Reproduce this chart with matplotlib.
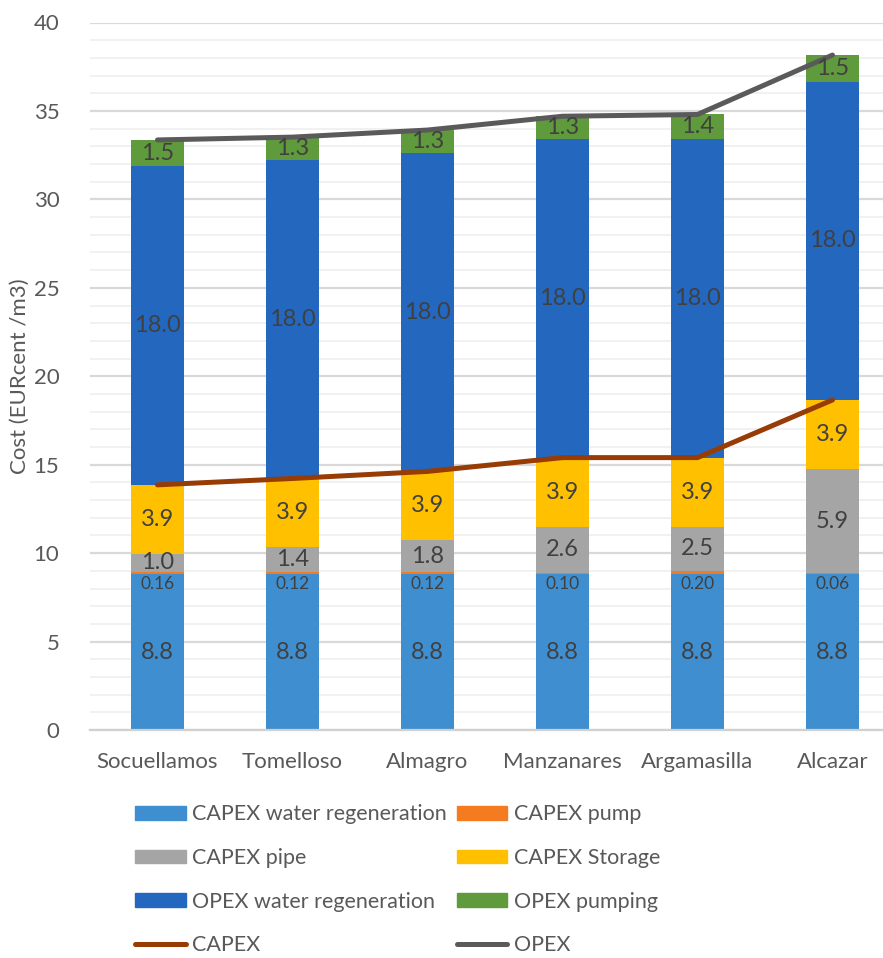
import matplotlib
matplotlib.use("Agg")
import matplotlib.pyplot as plt
from matplotlib.patches import Patch
from matplotlib.lines import Line2D
import numpy as np

plt.rcParams['font.family'] = ['Lato', 'DejaVu Sans']

towns = ["Socuellamos", "Tomelloso", "Almagro", "Manzanares", "Argamasilla", "Alcazar"]
capex_regen = [8.8, 8.8, 8.8, 8.8, 8.8, 8.8]
capex_pump = [0.16, 0.12, 0.12, 0.10, 0.20, 0.06]
capex_pipe = [1.0, 1.4, 1.8, 2.6, 2.5, 5.9]
capex_storage = [3.9, 3.9, 3.9, 3.9, 3.9, 3.9]
opex_regen = [18.0, 18.0, 18.0, 18.0, 18.0, 18.0]
opex_pumping = [1.5, 1.3, 1.3, 1.3, 1.4, 1.5]

c_regen = "#3f8fd0"
c_pump = "#f47b20"
c_pipe = "#a5a5a5"
c_storage = "#ffc000"
c_oregen = "#2467bf"
c_opump = "#5f9b3c"
c_capex_line = "#983c06"
c_opex_line = "#5a5a5a"
txt = "#404040"
tick_c = "#595959"

fig = plt.figure(figsize=(8.83, 9.58), dpi=100)
ax = fig.add_axes([90/883, 1-730/958, 810/883, (730-22.5)/958])

x = np.arange(len(towns))
w = 0.39
series = [
    (capex_regen, c_regen, "CAPEX water regeneration"),
    (capex_pump, c_pump, "CAPEX pump"),
    (capex_pipe, c_pipe, "CAPEX pipe"),
    (capex_storage, c_storage, "CAPEX Storage"),
    (opex_regen, c_oregen, "OPEX water regeneration"),
    (opex_pumping, c_opump, "OPEX pumping"),
]
bottom = np.zeros(len(towns))
for vals, col, name in series:
    vals = np.array(vals)
    ax.bar(x, vals, w, bottom=bottom, color=col, zorder=2, label=name)
    for i, v in enumerate(vals):
        if name == "CAPEX pump":
            ax.annotate(f"{v:.2f}", (x[i], bottom[i]), xytext=(0, -1.5),
                        textcoords="offset points", ha="center", va="top",
                        fontsize=12.5, color=txt, zorder=4)
        else:
            ax.text(x[i], bottom[i] + v / 2, f"{v:.1f}", ha="center", va="center",
                    fontsize=17, color=txt, zorder=4)
    bottom = bottom + vals

capex_total = np.array(capex_regen) + np.array(capex_pump) + np.array(capex_pipe) + np.array(capex_storage)
opex_total = capex_total + np.array(opex_regen) + np.array(opex_pumping)
ax.plot(x, capex_total, color=c_capex_line, lw=3.6, zorder=3, solid_capstyle="round")
ax.plot(x, opex_total, color=c_opex_line, lw=3.6, zorder=3, solid_capstyle="round")

ax.set_xlim(-0.5, len(towns) - 0.5)
ax.set_ylim(0, 40)
ax.set_yticks(np.arange(0, 41, 5))
ax.set_yticks(np.arange(0, 41, 1), minor=True)
ax.grid(axis="y", which="major", color="#d9d9d9", lw=1.6, zorder=0)
ax.grid(axis="y", which="minor", color="#efefef", lw=1.2, zorder=0)
for s in ["top", "right", "left"]:
    ax.spines[s].set_visible(False)
ax.spines["bottom"].set_color("#d0d0d0")
ax.spines["bottom"].set_linewidth(1.6)
ax.tick_params(axis="both", which="both", length=0)
ax.tick_params(axis="y", labelsize=16, labelcolor=tick_c, pad=22)
ax.tick_params(axis="x", labelsize=16, labelcolor=tick_c, pad=16)
ax.set_xticks(x)
ax.set_xticklabels(towns)
ax.set_ylabel("Cost (EURcent /m3)", fontsize=16, color=tick_c, labelpad=3)

handles = [
    Patch(color=c_regen, label="CAPEX water regeneration"),
    Patch(color=c_pipe, label="CAPEX pipe"),
    Patch(color=c_oregen, label="OPEX water regeneration"),
    Line2D([], [], color=c_capex_line, lw=3.6, solid_capstyle="round", label="CAPEX"),
    Patch(color=c_pump, label="CAPEX pump"),
    Patch(color=c_storage, label="CAPEX Storage"),
    Patch(color=c_opump, label="OPEX pumping"),
    Line2D([], [], color=c_opex_line, lw=3.6, solid_capstyle="round", label="OPEX"),
]
leg = fig.legend(handles=handles, ncol=2, loc="upper left",
                 bbox_to_anchor=(116/883, 1-785/958), frameon=False,
                 fontsize=15.5, labelcolor=tick_c, handlelength=2.35, handleheight=0.62,
                 handletextpad=0.3, columnspacing=0.45, labelspacing=1.1)

fig.savefig("out.png", dpi=100)
